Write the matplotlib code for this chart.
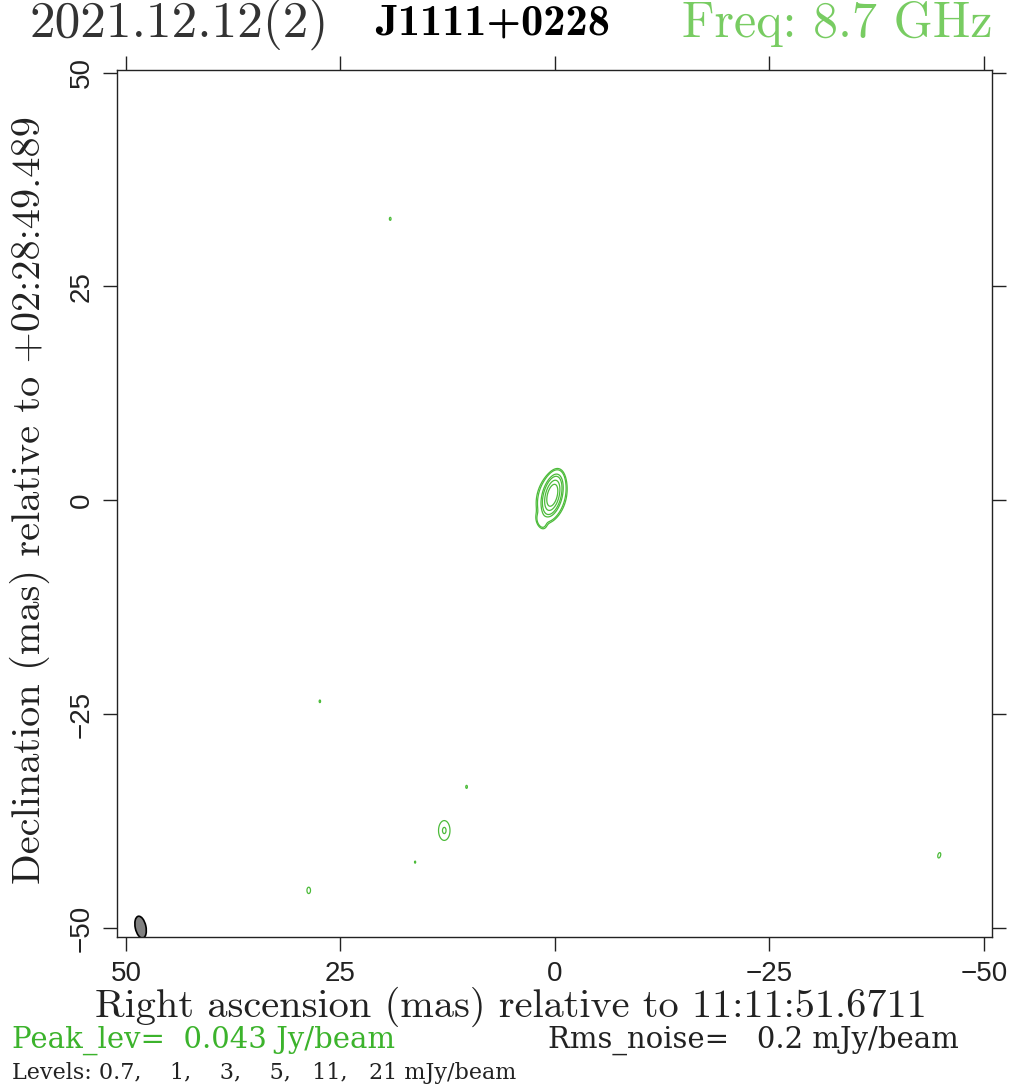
import numpy as np
import matplotlib
matplotlib.use("Agg")
import matplotlib.pyplot as plt
from matplotlib.patches import Ellipse

# gaussian components (mas, mJy/beam): ra offset, dec offset, peak, sigma_x, sigma_y, pa(deg)
comp_ra = [0.3, 0.4, 1.6, 19.2, 35.4, 27.4, 10.3, 12.9, 16.3, 28.7, -44.8]
comp_dec = [0.6, 0.4, -2.5, 32.9, -1.75, -23.5, -33.5, -38.6, -42.3, -45.6, -41.5]
comp_peak = [40.0, 4.0, 1.5, 0.74, 0.705, 0.73, 0.74, 1.04, 0.72, 0.78, 0.76]
comp_sx = [0.45, 0.9, 0.35, 0.3, 0.2, 0.3, 0.3, 0.75, 0.3, 0.45, 0.4]
comp_sy = [1.05, 1.5, 0.6, 0.55, 0.15, 0.55, 0.55, 1.3, 0.55, 0.8, 0.8]
comp_pa = [-14, -14, 20, 0, 0, 0, 0, 0, 0, 0, -15]

levels = [0.7, 1, 3, 5, 11, 21]
beam_ra, beam_dec = 48.3, -49.9
beam_w, beam_h, beam_pa = 1.25, 2.6, -12

green = "#4cbb3a"

ra = np.linspace(52, -52, 1600)
dec = np.linspace(-52, 52, 1600)
X, Y = np.meshgrid(ra, dec)
img = np.zeros_like(X)
for x0, y0, p, sx, sy, pa in zip(comp_ra, comp_dec, comp_peak, comp_sx, comp_sy, comp_pa):
    t = np.deg2rad(pa)
    dx, dy = X - x0, Y - y0
    u = dx * np.cos(t) - dy * np.sin(t)
    v = dx * np.sin(t) + dy * np.cos(t)
    img += p * np.exp(-0.5 * ((u / sx) ** 2 + (v / sy) ** 2))

fig = plt.figure(figsize=(10.24, 10.92), dpi=100)
ax = fig.add_axes([117 / 1024, 1 - 937 / 1092, 875 / 1024, 867 / 1092])
ax.contour(X, Y, img, levels=levels, colors=green, linewidths=0.9)
ax.add_patch(Ellipse((beam_ra, beam_dec), beam_w, beam_h, angle=beam_pa,
                     facecolor="#808080", edgecolor="black", lw=1.2))
ax.set_xlim(51.05, -50.95)
ax.set_ylim(-51.05, 50.3)
ax.set_xticks([50, 25, 0, -25, -50])
ax.set_yticks([50, 25, 0, -25, -50])
ax.set_xticklabels(["50", "25", "0", "\u221225", "\u221250"], family="Liberation Sans")
ax.set_yticklabels(["50", "25", "0", "\u221225", "\u221250"], rotation=90, va="center",
                   family="Liberation Sans")
ax.tick_params(direction="out", length=10, width=1, labelsize=20, color="#222222",
               labelcolor="#222222", top=True, right=True)
ax.tick_params(axis="x", pad=7)
ax.tick_params(axis="y", pad=6)
for s in ax.spines.values():
    s.set_linewidth(1.0)
    s.set_color("#222222")

cm = ["cmr10", "DejaVu Serif"]
fig.text(511 / 1024, 1 - 1007 / 1092, "Right ascension (mas) relative to 11:11:51.6711",
         fontsize=29, family=cm, color="#222222", ha="center", va="center")
fig.text(30 / 1024, 1 - 500 / 1092, "Declination (mas) relative to +02:28:49.489",
         fontsize=29, family=cm, color="#222222", ha="center", va="center", rotation=90)

fig.text(30 / 1024, 0.978, "2021.12.12(2)", fontsize=37, family=cm,
         color="#333333", va="center", ha="left")
fig.text(375 / 1024, 0.978, "J1111+0228", fontsize=32, family=["cmb10", "DejaVu Serif"],
         color="black", va="center", ha="left")
fig.text(992 / 1024, 0.978, "Freq: 8.7 GHz", fontsize=36, family=cm,
         color="#78cc62", va="center", ha="right")

fig.text(12 / 1024, 1 - 1040 / 1092, "Peak_lev=  0.043 Jy/beam", fontsize=21,
         family="DejaVu Serif", color="#3cb32c", va="center", ha="left")
fig.text(548 / 1024, 1 - 1040 / 1092, "Rms_noise=   0.2 mJy/beam", fontsize=21,
         family="DejaVu Serif", color="#222222", va="center", ha="left")
fig.text(12 / 1024, 1 - 1073 / 1092, "Levels: 0.7,    1,    3,    5,   11,   21 mJy/beam",
         fontsize=16, family="DejaVu Serif", color="#222222", va="center", ha="left")

fig.savefig("out.png", dpi=100)
